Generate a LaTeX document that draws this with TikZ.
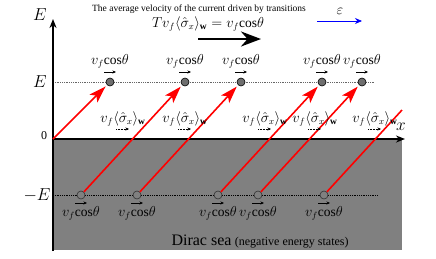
\documentclass[tikz,border=0pt]{standalone}
\usepackage{amsmath,amssymb,bm}
\usepackage{fontspec}
\setmainfont{Liberation Serif}
\usetikzlibrary{arrows.meta}
\definecolor{seagray}{RGB}{128,128,128}
\definecolor{dotgray}{RGB}{110,110,110}
\newcommand{\vcos}{v_f\mathrm{cos}\theta}

\begin{document}
\begin{tikzpicture}[x=1pt,y=-1pt,>=Stealth,font=\fontsize{13.5}{15}\selectfont,
  state/.style={circle,draw=black,inner sep=0pt,minimum size=8pt,line width=0.6pt},
  jump/.style={red,line width=1.6pt,-{Stealth[length=17pt,width=11pt,inset=4pt]},shorten >=2pt},
  level/.style={densely dotted,line width=0.8pt},
  axis/.style={line width=1.8pt,-{Stealth[length=9pt,width=7pt]}},
  vel/.style={line width=0.5pt,-{Stealth[length=3.5pt,width=3pt]}}]
\useasboundingbox (0,0) rectangle (436,258);
% Dirac sea and energy levels
\fill[seagray] (53,139) rectangle (402,250);
\draw[level,black!60] (53,82) -- (375,82);
\draw[level] (53,195) -- (378,195);
% axes
\coordinate (o) at (53,139);
\coordinate (ybot) at (53,251);
\coordinate (ytop) at (53,19);
\coordinate (xend) at (405,139);
\draw[axis] (ybot) -- (ytop);
\draw[axis] (o) -- (xend);
\node (elab) at (40,15) {\LARGE$E$};
\node (xlab) at (401,127) {\LARGE$x$};
\node (eup) at (40,82) {\LARGE$E$};
\node (edown) at (37,195) {\LARGE$-E$};
\node (zero) at (44,136) {\large 0};
% electrons above, holes below
\foreach \x [count=\i] in {110,185,241,322,362} {
  \node[state,fill=dotgray] (t\i) at (\x,82) {};
  \node (tl\i) at (\x,61) {$\vcos$};
  \draw[vel] (\x-6,72) -- (\x+6,72);
}
\foreach \x [count=\i] in {81,137,218,258,324} {
  \node[state,fill=seagray,draw=black!80] (b\i) at (\x,195) {};
  \node (bl\i) at (\x,213) {$\vcos$};
  \draw[vel] (\x-6,203) -- (\x+6,203);
}
% transitions
\coordinate (edge) at (402,110);
\draw[jump] (o) -- (t1);
\foreach \i/\j in {1/2,2/3,3/4,4/5} {
  \draw[jump] (b\i) -- (t\j);
}
\draw[red,line width=1.6pt] (b5) -- (edge);
% weak values
\foreach \x [count=\i] in {123,185,265,315,375} {
  \node (wl\i) at (\x,119) {$v_f\langle\hat\sigma_x\rangle_{\mathbf{w}}$};
  \draw[vel,densely dotted] (\x-7,129) -- (\x+6,129);
}
\node[anchor=west] (sea) at (168,241) {{\fontsize{16}{18}\selectfont Dirac sea} {\fontsize{12}{14}\selectfont(negative energy states)}};
% title
\node (title) at (199,9) {\fontsize{9.5}{11}\selectfont The average velocity of the current driven by transitions};
\node (eq) at (208,24) {$Tv_f\langle\hat\sigma_x\rangle_{\mathbf{w}}=\vcos$};
\coordinate (ja) at (198,39);
\coordinate (jb) at (261,39);
\draw[line width=2.8pt,-{Stealth[length=20pt,width=15pt]}] (ja) -- (jb);
\node (field) at (340,11) {\Large$\varepsilon$};
\coordinate (fa) at (317,21);
\coordinate (fb) at (362,21);
\draw[blue,line width=0.8pt,-{Stealth[length=7pt,width=6pt]}] (fa) -- (fb);
\end{tikzpicture}
\end{document}
